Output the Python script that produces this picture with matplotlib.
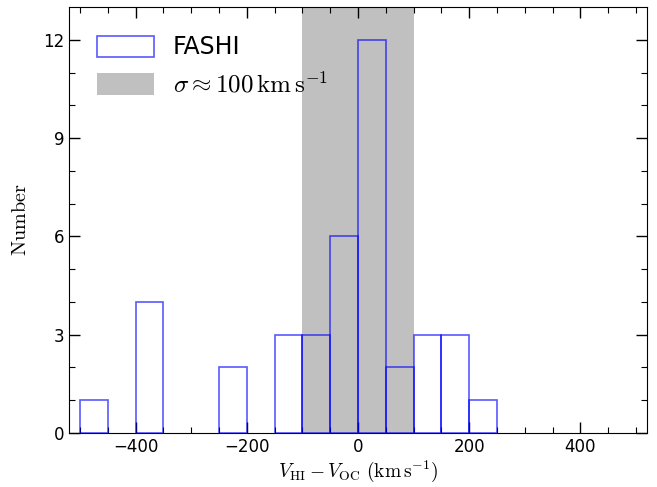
import matplotlib
matplotlib.use('Agg')
import matplotlib.pyplot as plt
import numpy as np

# histogram values
bin_edges = np.arange(-500, 251, 50)
counts = [1, 0, 4, 0, 0, 2, 0, 3, 3, 6, 12, 2, 3, 3, 1]
sigma = 100

plt.rcParams['mathtext.fontset'] = 'cm'
plt.rcParams['xtick.direction'] = 'in'
plt.rcParams['ytick.direction'] = 'in'

fig = plt.figure(figsize=(6.57, 4.87), dpi=100)
ax = fig.add_axes([69/657, 1-433/487, (647-69)/657, (433-7)/487])

ax.axvspan(-sigma, sigma, color='#c0c0c0', lw=0, zorder=0,
           label=r'$\sigma \approx 100\,\mathrm{km\,s^{-1}}$')
for i, c in enumerate(counts):
    if c == 0:
        continue
    ax.bar(bin_edges[i], c, width=50, align='edge', fill=False,
           edgecolor='blue', alpha=0.65, lw=1.2, zorder=3, clip_on=False,
           label='FASHI' if i == 0 else None)

ax.set_xlim(-520, 520)
ax.set_ylim(0, 13)
ax.set_xticks([-400, -200, 0, 200, 400])
ax.set_xticklabels(['\u2212400', '\u2212200', '0', '200', '400'])
ax.set_yticks([0, 3, 6, 9, 12])
ax.set_xticks(np.arange(-500, 501, 50), minor=True)
ax.set_yticks(np.arange(0, 13, 1), minor=True)
ax.tick_params(which='both', top=True, right=True, labelsize=12)
ax.tick_params(which='major', length=8, width=1)
ax.tick_params(which='minor', length=4, width=0.8)

ax.set_xlabel(r'$V_{\mathrm{HI}} - V_{\mathrm{OC}}\ (\mathrm{km\,s^{-1}})$',
              fontsize=14, labelpad=2)
ax.set_ylabel(r'$\mathrm{Number}$', fontsize=14.5, labelpad=9)

h, l = ax.get_legend_handles_labels()
order = [l.index('FASHI'), 1 - l.index('FASHI')]
leg = ax.legend([h[i] for i in order], [l[i] for i in order], loc='upper left',
                frameon=False, fontsize=17, handlelength=2.4, handleheight=1.0,
                borderaxespad=0.8, labelspacing=0.5)
leg.get_texts()[1].set_fontsize(18)

fig.savefig('out.png', dpi=100)
